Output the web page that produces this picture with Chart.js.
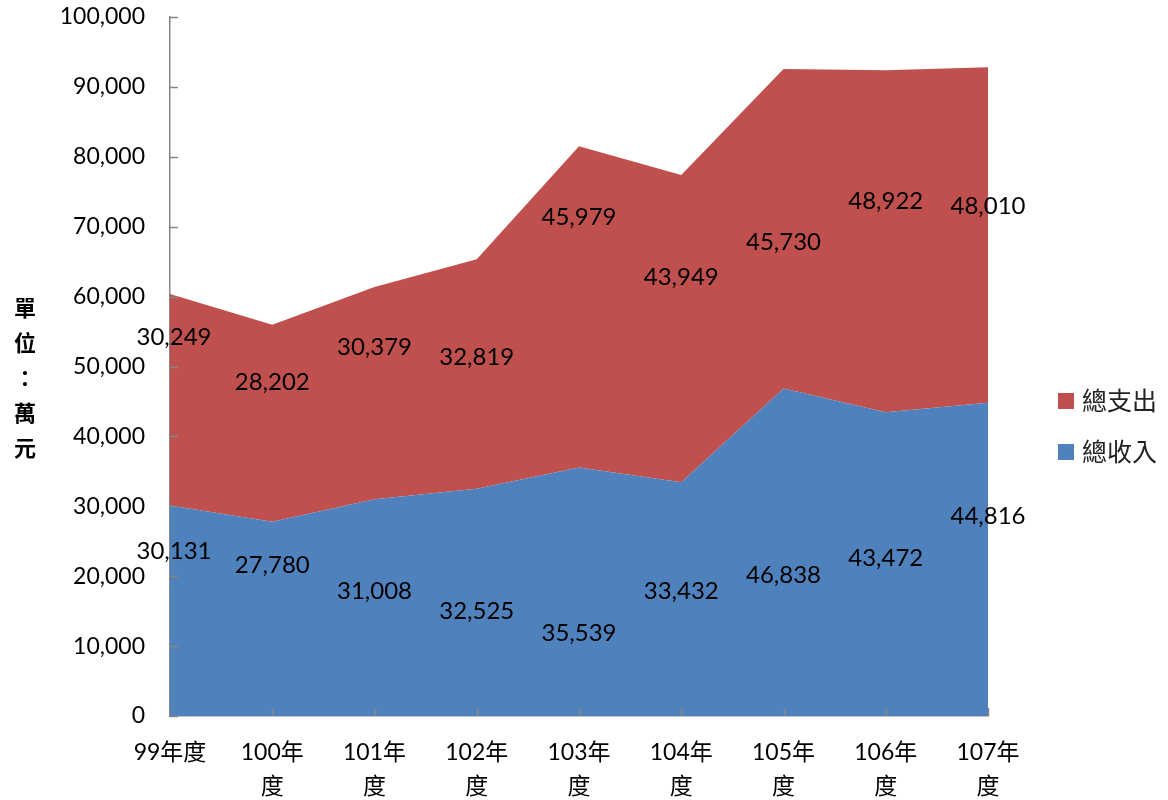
<!DOCTYPE html>
<html>
<head>
<meta charset="utf-8">
<script src="https://cdn.jsdelivr.net/npm/chart.js@4"></script>
<style>
  body { margin: 0; background: #fff; }
</style>
</head>
<body>
<canvas id="budget" width="1168" height="800"></canvas>

<script>
  const years = ["99年度", "100年度", "101年度", "102年度", "103年度", "104年度", "105年度", "106年度", "107年度"];
  const income = [30131, 27780, 31008, 32525, 35539, 33432, 46838, 43472, 44816];
  const expense = [30249, 28202, 30379, 32819, 45979, 43949, 45730, 48922, 48010];
  const yTicks = [0, 10000, 20000, 30000, 40000, 50000, 60000, 70000, 80000, 90000, 100000];

  // where the value labels sit, in y-axis units
  const incomeLabelAt = [23600, 21600, 17800, 15000, 11900, 17800, 20200, 22600, 28600];
  const expenseLabelAt = [54200, 47700, 52700, 51300, 71400, 62800, 67800, 73600, 72900];

  const FONT = "Lato, 'Noto Sans CJK TC', sans-serif";
  const AXIS_GRAY = "#868686";

  function fmt(n) {
    return n.toLocaleString("en-US");
  }

  // inner tick marks, value labels, legend and the vertical axis title
  const extras = {
    id: "extras",
    afterDraw(chart) {
      const ctx = chart.ctx;
      const x = chart.scales.x;
      const y = chart.scales.y;
      const area = chart.chartArea;

      ctx.save();
      ctx.strokeStyle = AXIS_GRAY;
      ctx.lineWidth = 1.5;
      yTicks.forEach(function(v) {
        const py = Math.round(y.getPixelForValue(v)) + 0.5;
        ctx.beginPath();
        ctx.moveTo(area.left, py);
        ctx.lineTo(area.left + 8, py);
        ctx.stroke();
      });
      years.forEach(function(_, i) {
        if (i === 0) return;
        const px = Math.round(x.getPixelForValue(i)) + 0.5;
        ctx.beginPath();
        ctx.moveTo(px, area.bottom);
        ctx.lineTo(px, area.bottom - 8);
        ctx.stroke();
      });

      // value labels
      ctx.fillStyle = "#000";
      ctx.font = "24px " + FONT;
      ctx.textAlign = "center";
      ctx.textBaseline = "middle";
      years.forEach(function(_, i) {
        const px = x.getPixelForValue(i) + (i === 0 ? 4 : 0);
        ctx.fillText(fmt(income[i]), px, y.getPixelForValue(incomeLabelAt[i]));
        ctx.fillText(fmt(expense[i]), px, y.getPixelForValue(expenseLabelAt[i]));
      });

      // legend (top series first)
      const items = chart.data.datasets.slice().reverse();
      ctx.font = "25px " + FONT;
      ctx.textAlign = "left";
      items.forEach(function(ds, k) {
        const cy = 401 + k * 51;
        ctx.fillStyle = ds.backgroundColor;
        ctx.fillRect(1058, cy - 8, 16, 16);
        ctx.fillStyle = "#222";
        ctx.fillText(ds.label, 1082, cy + 1);
      });

      // y axis title, one character per line
      ctx.fillStyle = "#000";
      ctx.font = "bold 22px 'Noto Sans CJK TC', sans-serif";
      ctx.textAlign = "center";
      "單位：萬元".split("").forEach(function(ch, k) {
        ctx.fillText(ch, 25, 308 + k * 35);
      });
      ctx.restore();
    }
  };

  const config = {
    type: "line",
    data: {
      labels: years,
      datasets: [{
        label: "總收入",
        data: income,
        backgroundColor: "#4F81BD",
        borderWidth: 0,
        pointRadius: 0,
        fill: "origin",
        tension: 0,
      }, {
        label: "總支出",
        data: expense,
        backgroundColor: "#C0504D",
        borderWidth: 0,
        pointRadius: 0,
        fill: "-1",
        tension: 0,
      }]
    },
    options: {
      responsive: false,
      animation: false,
      events: [],
      layout: { autoPadding: false, padding: { top: 17, right: 180, left: 0, bottom: 0 } },
      plugins: {
        legend: { display: false },
        tooltip: { enabled: false },
      },
      scales: {
        x: {
          offset: false,
          z: 1,
          afterFit: function(scale) {
            scale.height = 84;
            scale.paddingLeft = 0;
            scale.paddingRight = 0;
          },
          grid: { display: false, drawTicks: false },
          border: { display: true, color: AXIS_GRAY, width: 1.5 },
          ticks: {
            color: "#000",
            font: { family: FONT, size: 23, lineHeight: 1.5 },
            padding: 19,
            maxRotation: 0,
            autoSkip: false,
            callback: function(v, i) {
              const s = years[i];
              return s.length > 4 ? [s.slice(0, s.length - 1), s.slice(-1)] : s;
            }
          }
        },
        y: {
          stacked: true,
          min: 0,
          max: 100000,
          z: 1,
          afterFit: function(scale) {
            scale.width = 170;
            scale.paddingTop = 0;
            scale.paddingBottom = 0;
          },
          grid: { display: false, drawTicks: false },
          border: { display: true, color: AXIS_GRAY, width: 1.5 },
          ticks: {
            stepSize: 10000,
            color: "#000",
            font: { family: FONT, size: 23 },
            padding: 25,
            callback: function(v) { return fmt(v); }
          }
        }
      }
    },
    plugins: [extras]
  };

  new Chart(document.getElementById("budget"), config);
</script>
</body>
</html>
